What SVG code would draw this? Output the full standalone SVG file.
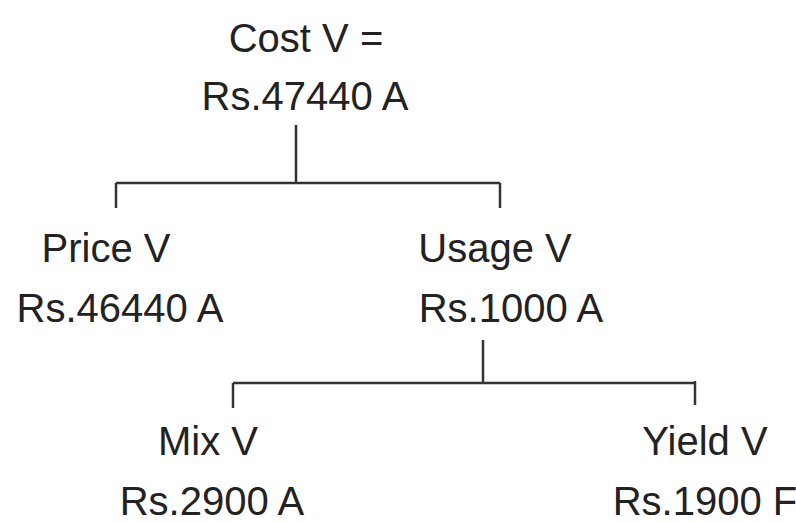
<svg xmlns="http://www.w3.org/2000/svg" width="796" height="522" viewBox="0 0 796 522">
<style>
text{font-family:"Liberation Sans","DejaVu Sans",sans-serif;font-size:40px;fill:#222;text-anchor:middle}
.c{stroke:#333;stroke-width:2.5;fill:none}
</style>
<rect width="796" height="522" fill="#fff"/>
<g id="connectors">
<path class="c" d="M296 125V183M116 183H500M116 183V208M500 183V208"/>
<path class="c" d="M483 340V382M233 383H695M233 383V408M695 381V405"/>
</g>
<g id="root"><text x="306" y="52">Cost V =</text><text x="305" y="110">Rs.47440 A</text></g>
<g id="price"><text x="106" y="262">Price V</text><text x="120" y="322">Rs.46440 A</text></g>
<g id="usage"><text x="495" y="262">Usage V</text><text x="511" y="322">Rs.1000 A</text></g>
<g id="mix"><text x="208" y="455">Mix V</text><text x="212" y="515">Rs.2900 A</text></g>
<g id="yield"><text x="705" y="455">Yield V</text><text x="705" y="515">Rs.1900 F</text></g>
</svg>
